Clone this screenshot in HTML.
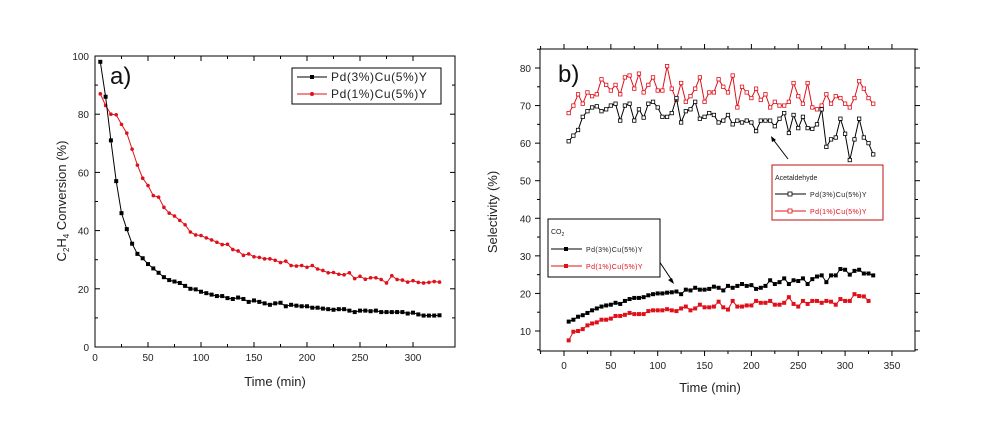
<!DOCTYPE html><html><head><style>body{margin:0;background:#fff}svg{display:block}text{font-family:"Liberation Sans",sans-serif}</style></head><body>
<svg id="s" width="992" height="421" xmlns="http://www.w3.org/2000/svg"></svg>
<script>
const S=document.getElementById('s');let h='';
function A(){h+=[...arguments].join('');}
function ln(x1,y1,x2,y2,c,w){A(`<line x1="${x1}" y1="${y1}" x2="${x2}" y2="${y2}" stroke="${c||'#000'}" stroke-width="${w||1}"/>`);}
function tx(x,y,t,sz,anc,col,extra){A(`<text x="${x}" y="${y}" font-size="${sz}" text-anchor="${anc||'middle'}" fill="${col||'#222'}" ${extra||''}>${t}</text>`);}
function series(d,fx,fy,col,mk,r,lw){let p=d.map((v,i)=>`${fx(5+5*i).toFixed(1)},${fy(v).toFixed(1)}`).join(' ');
A(`<polyline points="${p}" fill="none" stroke="${col}" stroke-width="${lw||1}"/>`);
d.forEach((v,i)=>{let x=fx(5+5*i),y=fy(v);
if(mk=='sq')A(`<rect x="${x-r}" y="${y-r}" width="${2*r}" height="${2*r}" fill="${col}"/>`);
else if(mk=='osq')A(`<rect x="${x-r}" y="${y-r}" width="${2*r}" height="${2*r}" fill="#fff" stroke="${col}" stroke-width="0.8"/>`);
else A(`<circle cx="${x}" cy="${y}" r="${r}" fill="${col}"/>`);});}
// chart a
{const L=95,R=455,T=56,B=347;const fx=x=>L+x*1.06,fy=y=>B-y*2.91;
A(`<rect x="${L}" y="${T}" width="${R-L}" height="${B-T}" fill="none" stroke="#000"/>`);
for(let v=0;v<=300;v+=25){let x=fx(v),m=v%50==0;ln(x,B,x,B-(m?5:3));ln(x,T,x,T+(m?5:3));if(m)tx(x,B+14,v,10);}
for(let v=0;v<=100;v+=10){let y=fy(v),m=v%20==0;ln(L,y,L+(m?5:3),y);ln(R,y,R-(m?5:3),y);if(m)tx(L-6,y+4,v,10,'end');}
tx(275,386,'Time  (min)',13);
A(`<text transform="translate(66,201) rotate(-90)" font-size="13" text-anchor="middle" fill="#222">C<tspan font-size="8" dy="3">2</tspan><tspan dy="-3">H</tspan><tspan font-size="8" dy="3">4</tspan><tspan dy="-3"> Conversion (%)</tspan></text>`);
tx(110,84,'a)',24,'start','#111');
const b=[98,86,71,57,46,40.5,35.5,32,30.5,28.5,27,25.5,24,23,22.5,22,21,20,19.8,19,18.5,18,17.5,17.5,16.8,16.5,17,16.5,15.5,16,15.5,15,14.5,15,15.2,14,14.5,14.2,14,14,13.5,13.5,13.2,13,12.8,13,13,12.5,12,12.5,12.5,12.3,12.5,12,12,12,12,12,11.5,11.8,11.2,10.8,10.8,10.8,10.9];
const r=[87,83,80,79.8,76.5,73.5,68,62.5,58,55.5,52,51.5,48,46,45,43.5,42,39.5,38.5,38.3,37.5,36.8,36,35.2,35.3,33.5,33,31.5,32,31,30.8,30.3,30.3,29.8,29,29.5,28,27.8,28,27.4,28,26.8,26.3,25.5,25.6,25,24.8,25.5,23.5,24.3,23.3,23.8,23.8,23.2,22,24.5,23.2,23,22.3,22.8,22.2,22,22.2,22.5,22.3];
series(r,fx,fy,'#e0101a','c',1.8);series(b,fx,fy,'#000','sq',2);
A(`<rect x="292" y="68" width="149" height="36" fill="#fff" stroke="#000"/>`);
ln(297,77,327,77);A(`<rect x="310" y="75" width="4" height="4"/>`);tx(331,81,'Pd(3%)Cu(5%)Y',12,'start','#222','letter-spacing="0.6"');
ln(297,94,327,94,'#e0101a');A(`<circle cx="312" cy="94" r="2" fill="#e0101a"/>`);tx(331,98,'Pd(1%)Cu(5%)Y',12,'start','#222','letter-spacing="0.6"');
}
// chart b
{const L=540,R=915,T=49,B=351;const fx=x=>564+x*0.937,fy=y=>68+(80-y)*3.757;
A(`<rect x="${L}" y="${T}" width="${R-L}" height="${B-T}" fill="none" stroke="#000"/>`);
for(let v=-25;v<=375;v+=25){let x=fx(v);if(x<L||x>R)continue;let m=v%50==0;ln(x,B,x,B+(m?5:3));ln(x,T,x,T-(m?5:3));if(m)tx(x,B+18,v,10);}
for(let v=5;v<=85;v+=5){let y=fy(v),m=v%10==0;ln(L,y,L-(m?5:3),y);ln(R,y,R+(m?5:3),y);if(m)tx(L-9,y+4,v,10,'end');}
tx(710,392,'Time  (min)',13);
A(`<text transform="translate(497,212) rotate(-90)" font-size="13" text-anchor="middle" fill="#222">Selectivity (%)</text>`);
tx(558,82,'b)',24,'start','#111');
const ab=[60.5,62,63.5,67,68.5,69.5,69.8,68.5,69,70,70.5,66,70,70.5,66,69,66.8,70.5,71,69.5,67,67,68,72,65.5,68.5,69,71,66.5,67,68,67.5,65.5,66,67.5,65,66,65.5,66,65.5,63.2,66,66,66,64.5,66.5,68,62.7,67.5,64,67,64,63.8,65,69,59,61,61.5,66.5,62.5,55.5,61,66.5,61.5,60,57];
const ar=[68,70,73,70.5,73.5,72.5,73,77,75.5,74,75.5,73,77.5,78,74.5,78.5,73.5,75.5,77.5,74,74,80.5,74.5,71.5,76,71,72.5,74.5,77.5,71,73.5,73.5,77,75,73.5,78,69.5,75,73.5,72,74.5,71.5,73,69.5,71,70,70,71,76,72.5,70.5,76,69.5,69,70,73,70.5,72.5,72,70.5,69.5,72,76.5,74.5,72,70.5];
const cb=[12.5,13,13.8,14.2,14.8,15.5,16,16.5,16.8,17,17.5,17.2,18,18.5,18.8,18.8,19,19.5,19.8,20,20,20.2,20.3,20.5,19.8,21,20.8,21.5,21,21,21.2,21.8,21.5,20.8,22,21.5,22,22.5,22,22.2,21.2,21.5,22,23.5,22.5,23,24,22.5,23.5,23.3,24,22.5,23.8,24.5,24.8,23,24.8,24.8,26.5,26.3,25,26,26.3,25.3,25.3,24.8];
const cr=[7.5,9.8,10,10.5,11.5,12,12.3,13,13,13.3,14,14,14.3,14.8,14.5,14.5,14.5,15.3,15.5,15.5,15.5,15.8,15.5,15.3,16,16.5,15.5,16,17,16.3,16.3,16.5,17.8,16.3,15.7,18,16.5,16.5,16.8,16.8,18,17.5,17.5,18,17,17,17.5,19,17.2,16.5,18,17.2,18,18,17.5,18,17.8,17,18.5,18,18,19.8,19.3,19.2,18];
series(ar,fx,fy,'#e0101a','osq',1.7);series(ab,fx,fy,'#000','osq',1.7);
series(cr,fx,fy,'#e0101a','sq',2);series(cb,fx,fy,'#000','sq',2);
// arrows
ln(788,159,772,138);A(`<polygon points="771,136 776,140 772,142" fill="#000"/>`);
ln(655,255,673,282);A(`<polygon points="674,284 668,280 672,278" fill="#000"/>`);
A(`<rect x="772" y="165" width="111" height="55" fill="#fff" stroke="#c01010"/>`);
tx(775,180,'Acetaldehyde',7,'start','#222');
ln(775,194,806,194);A(`<rect x="788" y="192" width="4" height="4" fill="#fff" stroke="#000" stroke-width="0.8"/>`);tx(810,197,'Pd(3%)Cu(5%)Y',7,'start','#222','letter-spacing="0.4"');
ln(775,211,806,211,'#e0101a');A(`<rect x="788" y="209" width="4" height="4" fill="#fff" stroke="#e0101a" stroke-width="0.8"/>`);tx(810,214,'Pd(1%)Cu(5%)Y',7,'start','#e0101a','letter-spacing="0.4"');
A(`<rect x="548" y="219" width="112" height="58" fill="#fff" stroke="#000"/>`);
A(`<text x="551" y="234" font-size="7" fill="#222">CO<tspan font-size="5" dy="2">2</tspan></text>`);
ln(551,249,582,249);A(`<rect x="564" y="247" width="4" height="4"/>`);tx(586,252,'Pd(3%)Cu(5%)Y',7,'start','#222','letter-spacing="0.4"');
ln(551,266,582,266,'#e0101a');A(`<rect x="564" y="264" width="4" height="4" fill="#e0101a"/>`);tx(586,269,'Pd(1%)Cu(5%)Y',7,'start','#e0101a','letter-spacing="0.4"');
}
S.innerHTML=h;
</script></body></html>
